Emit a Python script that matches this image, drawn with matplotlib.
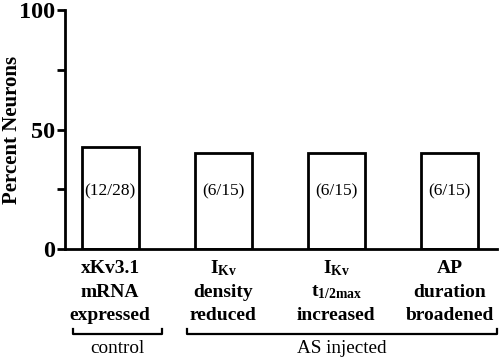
import numpy as np
import matplotlib.pyplot as plt

plt.rcParams['font.family'] = 'Liberation Serif'
plt.rcParams['mathtext.fontset'] = 'custom'
plt.rcParams['mathtext.rm'] = 'Liberation Serif:bold'
plt.rcParams['mathtext.it'] = 'Liberation Serif:bold'
plt.rcParams['mathtext.bf'] = 'Liberation Serif:bold'

# data
values = [42.9, 40, 40, 40]
counts = ['(12/28)', '(6/15)', '(6/15)', '(6/15)']
labels = [['xKv3.1', 'mRNA', 'expressed'],
          [r'$\mathrm{I_{Kv}}$', 'density', 'reduced'],
          [r'$\mathrm{I_{Kv}}$', r'$\mathrm{t_{1/2max}}$', 'increased'],
          ['AP', 'duration', 'broadened']]
groups = ['control', 'AS injected']
group_span = [(-0.33, 0.46), (0.68, 3.42)]

fig = plt.figure(figsize=(5, 3.61), dpi=100)
ax = fig.add_axes([0.13, 0.31, 0.864, 0.662])

x = np.arange(len(values))
ax.bar(x, values, width=0.5, color='white', edgecolor='black', linewidth=2)
for xi, c in zip(x, counts):
    ax.text(xi, 24, c, ha='center', va='center', fontsize=12.5)

ax.set_xlim(-0.4, 3.42)
ax.set_ylim(0, 100)
ax.set_yticks([0, 50, 100])
ax.set_yticks([25, 75], minor=True)
ax.set_xticks([])
for s in ['top', 'right']:
    ax.spines[s].set_visible(False)
for s in ['left', 'bottom']:
    ax.spines[s].set_linewidth(2)
ax.tick_params(axis='y', which='both', direction='out', length=6, width=2,
               labelsize=17.5, pad=1)
for t in ax.get_yticklabels():
    t.set_fontweight('bold')
fig.text(0.024, 0.64, 'Percent Neurons', rotation=90, ha='center', va='center',
         fontsize=15, fontweight='bold')

tr = ax.get_xaxis_transform()
line_y = [-0.08, -0.18, -0.276]
for xi, lab in zip(x, labels):
    for ly, s in zip(line_y, lab):
        ax.text(xi, ly, s, ha='center', va='center', fontsize=14,
                fontweight='bold', transform=tr)

for (x0, x1), g in zip(group_span, groups):
    ax.plot([x0, x0, x1, x1], [-0.335, -0.357, -0.357, -0.335], color='black',
            lw=1.6, transform=tr, clip_on=False)
    ax.text((x0 + x1) / 2, -0.415, g, ha='center', va='center', fontsize=13.8,
            transform=tr)

fig.savefig('out.png', dpi=100)
